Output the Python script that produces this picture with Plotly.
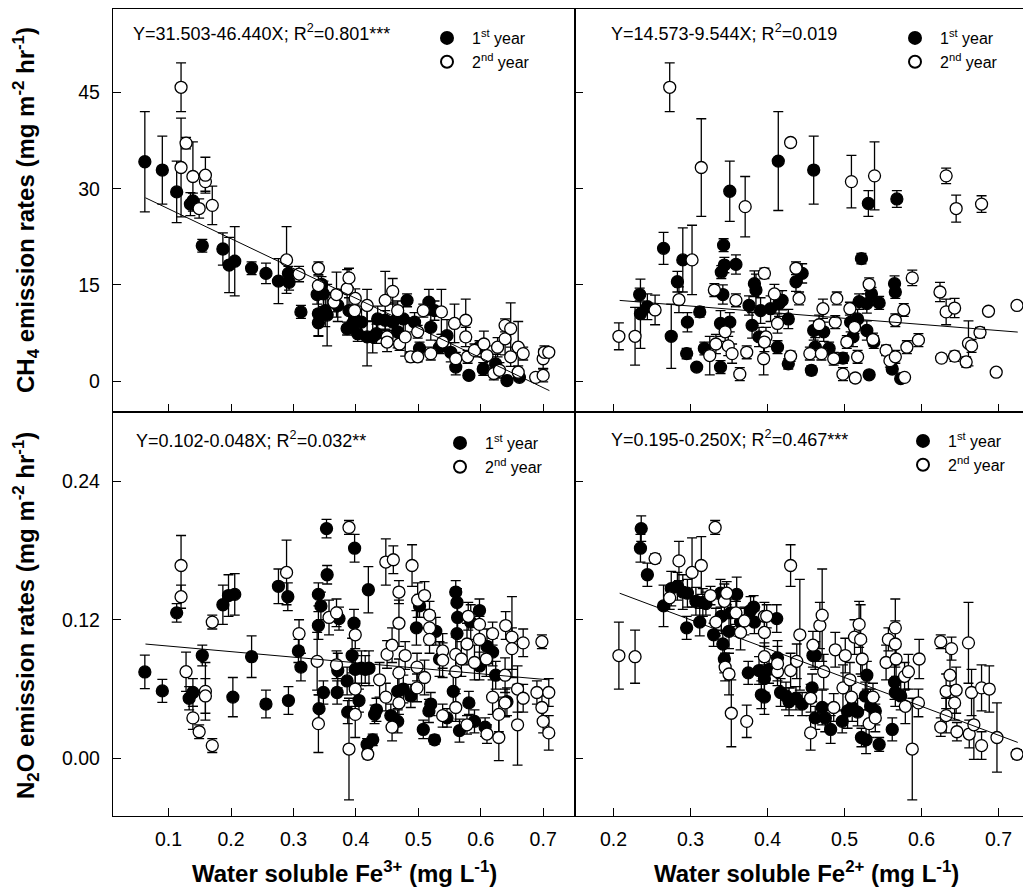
import plotly.graph_objects as go

# ---------------- data ----------------
# CH4 vs Fe3+ (top-left)
tl1_x = [0.062,0.090,0.113,0.135,0.139,0.154,0.187,0.197,0.206,0.233,0.256,0.276,0.292,0.293,0.312,0.338,0.340,0.340,0.345,0.348,0.351,0.354,0.371,0.386,0.389,0.395,0.398,0.403,0.409,0.418,0.427,0.433,0.435,0.447,0.459,0.467,0.476,0.482,0.494,0.502,0.517,0.520,0.526,0.534,0.546,0.552,0.560,0.581,0.598,0.604,0.624,0.642,0.662]
tl1_y = [34.2,32.9,29.5,27.6,28.1,21.1,20.6,18.1,18.7,17.6,16.8,15.6,16.8,15.4,10.8,13.5,9.1,10.5,15.1,13.6,11.0,10.3,11.8,8.2,11.0,9.0,9.7,7.4,9.2,6.9,6.9,7.4,9.7,9.5,9.2,7.7,9.7,12.6,9.2,5.1,12.3,8.4,11.0,5.3,7.1,4.5,2.2,0.9,5.3,1.9,2.7,0.1,0.6]
tl1_e = [7.8,5.3,4.8,1.8,1.2,1.0,2.5,4.3,5.4,1.0,1.6,3.5,1.1,1.2,1.0,1.5,2.0,3.5,1.2,2.0,2.5,4.8,2.5,1.0,2.0,1.5,2.0,1.2,2.5,4.5,2.5,1.5,2.0,1.5,3.0,2.5,2.0,1.0,1.5,1.0,2.0,2.0,1.5,1.0,2.5,1.5,1.2,0.5,1.0,1.0,1.5,0.5,0.5]

tl2_x = [0.120,0.120,0.128,0.139,0.149,0.159,0.159,0.170,0.289,0.309,0.340,0.340,0.365,0.369,0.386,0.389,0.398,0.399,0.418,0.447,0.450,0.450,0.459,0.467,0.470,0.479,0.488,0.499,0.499,0.508,0.520,0.537,0.539,0.558,0.560,0.576,0.576,0.579,0.590,0.605,0.610,0.621,0.630,0.627,0.639,0.639,0.648,0.648,0.660,0.660,0.668,0.688,0.700,0.700,0.702,0.709]
tl2_y = [45.8,33.3,37.1,31.9,26.9,31.1,32.1,27.4,18.9,16.7,17.6,14.9,12.3,13.5,14.4,16.1,11.0,12.9,11.8,12.6,6.9,6.1,14.0,11.0,5.8,6.9,3.8,7.7,3.8,11.0,4.3,10.8,6.1,9.0,3.5,9.5,6.9,3.8,4.8,5.8,4.0,1.2,1.7,5.3,8.7,6.6,8.2,3.8,5.3,1.4,4.3,0.6,0.9,3.5,4.5,4.5]
tl2_e = [3.8,7.7,0.9,5.4,1.5,1.5,2.8,3.0,5.2,1.2,1.0,1.5,1.5,3.5,3.0,1.5,1.0,1.5,2.5,4.5,1.0,1.5,2.0,1.5,1.0,3.0,0.8,1.0,0.8,1.0,1.0,3.5,1.2,3.0,1.0,3.3,1.5,1.0,1.0,2.0,1.5,1.0,1.2,1.5,1.0,2.5,4.0,1.5,4.0,1.0,1.0,0.5,1.0,1.5,1.0,0.5]

# CH4 vs Fe2+ (top-right)
tr1_x = [0.265,0.351,0.414,0.460,0.531,0.568,0.234,0.235,0.244,0.275,0.283,0.290,0.296,0.295,0.308,0.312,0.318,0.339,0.340,0.344,0.343,0.339,0.351,0.342,0.359,0.376,0.380,0.383,0.385,0.389,0.391,0.404,0.413,0.415,0.419,0.427,0.427,0.437,0.445,0.457,0.462,0.460,0.473,0.480,0.498,0.508,0.511,0.517,0.519,0.522,0.529,0.529,0.532,0.535,0.538,0.545,0.562,0.565,0.566,0.573]
tr1_y = [20.7,29.6,34.3,32.9,27.7,28.4,13.5,10.5,11.6,7.0,15.5,18.9,9.2,4.3,2.2,10.8,5.1,2.2,17.0,18.1,21.2,9.0,9.2,13.5,18.2,11.8,8.7,15.2,14.2,6.9,11.0,11.3,5.3,12.1,12.6,2.7,9.7,15.5,16.8,1.7,5.3,7.9,7.7,5.1,3.6,9.2,6.9,9.7,12.4,19.1,7.9,12.1,1.0,13.6,6.1,12.2,1.9,15.2,13.9,0.4]
tr1_e = [2.5,4.7,7.7,5.3,2.0,1.3,1.0,5.4,2.0,5.0,1.6,5.0,1.5,0.8,0.4,0.8,1.0,1.0,1.0,1.2,1.0,2.0,1.5,1.5,1.5,1.5,2.0,2.0,2.5,1.5,2.0,2.0,1.0,2.0,1.5,0.8,1.5,1.5,1.5,0.7,1.5,1.5,1.5,1.0,0.8,1.5,1.5,1.5,1.2,0.8,1.5,1.5,0.5,1.0,1.0,1.0,0.6,1.2,1.0,0.5]

tr2_x = [0.273,0.314,0.371,0.430,0.509,0.539,0.632,0.645,0.678,0.207,0.228,0.254,0.285,0.302,0.325,0.331,0.333,0.345,0.349,0.354,0.359,0.364,0.373,0.395,0.396,0.398,0.396,0.409,0.413,0.430,0.437,0.441,0.455,0.467,0.470,0.472,0.486,0.488,0.490,0.498,0.503,0.507,0.514,0.513,0.517,0.532,0.537,0.554,0.559,0.566,0.566,0.577,0.578,0.581,0.588,0.596,0.624,0.626,0.632,0.643,0.643,0.658,0.661,0.665,0.676,0.687,0.697,0.724]
tr2_y = [45.8,33.3,27.2,37.2,31.1,32.0,32.0,26.9,27.6,7.0,7.0,11.1,12.7,18.9,4.0,14.2,5.8,7.7,5.5,4.3,12.6,1.1,4.5,3.5,16.8,6.9,6.1,13.6,9.0,3.9,17.6,12.9,4.3,8.8,4.3,11.3,3.5,9.2,12.9,1.1,6.1,11.3,0.5,8.4,3.8,15.1,6.5,4.8,3.2,9.5,3.8,11.1,0.6,5.3,16.1,6.4,13.9,3.6,10.8,11.4,3.9,3.0,5.9,5.5,7.6,10.9,1.4,11.8]
tr2_e = [3.8,7.6,4.7,0.6,4.1,5.3,1.2,2.1,1.3,2.1,4.5,2.3,2.0,5.4,3.0,1.0,1.5,1.5,1.5,1.5,1.0,1.0,1.0,2.5,0.8,1.5,1.5,1.5,1.5,0.8,1.0,1.0,1.0,1.5,1.0,1.5,1.0,1.0,1.0,1.0,1.0,1.0,0.6,1.0,1.0,1.0,1.0,0.8,1.0,1.0,1.0,1.0,0.5,1.0,1.2,1.0,1.5,0.6,2.0,1.5,0.8,0.8,3.5,1.0,0.8,0.5,0.5,0.5]

# N2O vs Fe3+ (bottom-left)
bl1_x = [0.062,0.090,0.113,0.133,0.139,0.154,0.187,0.196,0.206,0.203,0.233,0.256,0.276,0.292,0.291,0.308,0.312,0.340,0.340,0.344,0.353,0.354,0.348,0.341,0.370,0.371,0.373,0.386,0.387,0.394,0.397,0.398,0.399,0.405,0.409,0.415,0.421,0.418,0.427,0.420,0.430,0.433,0.456,0.467,0.467,0.476,0.488,0.497,0.502,0.508,0.517,0.520,0.526,0.528,0.534,0.546,0.556,0.560,0.562,0.562,0.563,0.566,0.581,0.584,0.590,0.598,0.598,0.607,0.610,0.619,0.624,0.642]
bl1_y = [0.0748,0.0584,0.126,0.052,0.057,0.089,0.133,0.141,0.142,0.053,0.088,0.047,0.149,0.050,0.140,0.093,0.079,0.115,0.142,0.132,0.199,0.159,0.057,0.043,0.057,0.076,0.121,0.067,0.040,0.089,0.117,0.182,0.077,0.050,0.078,0.077,0.078,0.012,0.016,0.146,0.038,0.042,0.037,0.032,0.058,0.060,0.054,0.113,0.132,0.025,0.041,0.047,0.016,0.110,0.086,0.035,0.058,0.144,0.135,0.108,0.122,0.024,0.048,0.118,0.032,0.128,0.080,0.027,0.097,0.092,0.072,0.049]
bl1_e = [0.0145,0.010,0.008,0.010,0.012,0.009,0.017,0.018,0.018,0.017,0.018,0.012,0.015,0.012,0.012,0.010,0.012,0.012,0.010,0.012,0.008,0.008,0.010,0.012,0.010,0.015,0.010,0.012,0.010,0.015,0.012,0.012,0.012,0.010,0.015,0.012,0.015,0.005,0.005,0.020,0.008,0.010,0.010,0.010,0.015,0.012,0.010,0.015,0.010,0.008,0.010,0.010,0.004,0.012,0.015,0.008,0.015,0.010,0.012,0.015,0.015,0.010,0.010,0.015,0.010,0.010,0.012,0.008,0.015,0.012,0.012,0.012]

bl2_x = [0.120,0.120,0.128,0.139,0.149,0.159,0.159,0.170,0.170,0.289,0.309,0.338,0.340,0.357,0.369,0.369,0.389,0.389,0.399,0.399,0.399,0.419,0.438,0.448,0.460,0.448,0.450,0.458,0.458,0.469,0.469,0.469,0.469,0.479,0.490,0.498,0.498,0.499,0.510,0.510,0.518,0.518,0.518,0.539,0.539,0.539,0.560,0.560,0.560,0.569,0.578,0.580,0.578,0.590,0.598,0.598,0.609,0.610,0.619,0.619,0.629,0.629,0.639,0.640,0.639,0.650,0.650,0.659,0.659,0.668,0.668,0.690,0.698,0.698,0.700,0.709,0.709]
bl2_y = [0.167,0.140,0.075,0.035,0.023,0.058,0.054,0.011,0.118,0.161,0.108,0.084,0.030,0.122,0.126,0.081,0.200,0.008,0.038,0.060,0.107,0.0035,0.068,0.170,0.172,0.053,0.090,0.098,0.027,0.144,0.117,0.074,0.048,0.089,0.167,0.079,0.061,0.137,0.141,0.070,0.124,0.113,0.103,0.093,0.037,0.085,0.044,0.075,0.090,0.086,0.099,0.123,0.029,0.083,0.116,0.103,0.086,0.021,0.053,0.108,0.038,0.018,0.072,0.115,0.048,0.105,0.095,0.060,0.029,0.100,0.052,0.057,0.101,0.044,0.032,0.057,0.022]
bl2_e = [0.026,0.010,0.017,0.010,0.006,0.025,0.015,0.006,0.006,0.028,0.012,0.025,0.025,0.015,0.012,0.012,0.006,0.044,0.020,0.015,0.012,0.004,0.015,0.020,0.012,0.012,0.012,0.015,0.012,0.010,0.020,0.012,0.010,0.012,0.018,0.012,0.012,0.015,0.012,0.015,0.012,0.015,0.012,0.015,0.010,0.015,0.012,0.015,0.015,0.015,0.018,0.012,0.008,0.015,0.015,0.020,0.015,0.008,0.015,0.010,0.015,0.020,0.015,0.012,0.012,0.035,0.018,0.020,0.035,0.012,0.012,0.010,0.006,0.010,0.010,0.012,0.015]

# N2O vs Fe2+ (bottom-right)
br1_x = [0.236,0.235,0.244,0.265,0.275,0.283,0.290,0.296,0.295,0.307,0.316,0.320,0.312,0.330,0.339,0.340,0.342,0.344,0.350,0.352,0.360,0.365,0.375,0.378,0.382,0.383,0.389,0.392,0.396,0.396,0.402,0.412,0.413,0.417,0.424,0.428,0.437,0.445,0.458,0.459,0.462,0.462,0.471,0.475,0.482,0.497,0.504,0.510,0.517,0.522,0.528,0.527,0.529,0.534,0.540,0.545,0.562,0.565,0.566,0.573]
br1_y = [0.199,0.182,0.159,0.132,0.147,0.149,0.144,0.143,0.113,0.136,0.135,0.134,0.118,0.107,0.143,0.123,0.099,0.086,0.110,0.126,0.142,0.118,0.074,0.128,0.131,0.118,0.076,0.055,0.053,0.069,0.077,0.121,0.087,0.057,0.054,0.049,0.052,0.047,0.061,0.089,0.089,0.035,0.044,0.035,0.025,0.032,0.041,0.044,0.040,0.018,0.016,0.054,0.072,0.045,0.041,0.012,0.025,0.066,0.057,0.054]
br1_e = [0.011,0.012,0.010,0.018,0.015,0.012,0.015,0.012,0.010,0.012,0.012,0.010,0.012,0.010,0.012,0.015,0.012,0.012,0.015,0.012,0.015,0.012,0.010,0.012,0.010,0.010,0.012,0.012,0.015,0.012,0.012,0.012,0.015,0.012,0.012,0.012,0.010,0.010,0.012,0.010,0.012,0.010,0.015,0.012,0.012,0.010,0.015,0.012,0.012,0.008,0.012,0.012,0.012,0.015,0.012,0.006,0.010,0.015,0.012,0.012]

br2_x = [0.207,0.228,0.254,0.273,0.285,0.302,0.314,0.326,0.332,0.333,0.344,0.347,0.345,0.350,0.353,0.359,0.365,0.370,0.373,0.396,0.399,0.396,0.396,0.413,0.413,0.430,0.430,0.438,0.442,0.456,0.456,0.459,0.468,0.471,0.473,0.486,0.488,0.498,0.501,0.507,0.509,0.513,0.519,0.521,0.523,0.532,0.537,0.540,0.554,0.557,0.566,0.566,0.567,0.578,0.579,0.583,0.588,0.596,0.597,0.625,0.625,0.632,0.632,0.637,0.639,0.643,0.645,0.646,0.661,0.662,0.665,0.668,0.678,0.688,0.678,0.698,0.724]
br2_y = [0.089,0.088,0.173,0.139,0.171,0.161,0.167,0.141,0.200,0.118,0.136,0.143,0.079,0.073,0.039,0.126,0.109,0.119,0.032,0.123,0.123,0.109,0.088,0.075,0.082,0.167,0.076,0.084,0.107,0.052,0.022,0.098,0.115,0.124,0.075,0.044,0.094,0.061,0.089,0.068,0.053,0.105,0.116,0.103,0.086,0.030,0.053,0.035,0.083,0.103,0.113,0.099,0.086,0.071,0.045,0.075,0.008,0.048,0.086,0.101,0.027,0.058,0.037,0.072,0.095,0.048,0.059,0.023,0.100,0.021,0.057,0.029,0.061,0.060,0.011,0.018,0.0035]
br2_e = [0.029,0.023,0.004,0.010,0.017,0.030,0.025,0.008,0.006,0.012,0.015,0.010,0.012,0.018,0.029,0.010,0.015,0.012,0.014,0.012,0.010,0.012,0.012,0.012,0.015,0.018,0.015,0.015,0.048,0.012,0.015,0.012,0.020,0.040,0.015,0.012,0.015,0.020,0.015,0.015,0.012,0.015,0.020,0.030,0.015,0.012,0.012,0.012,0.015,0.010,0.025,0.020,0.015,0.012,0.015,0.015,0.044,0.012,0.017,0.006,0.008,0.015,0.015,0.020,0.010,0.015,0.020,0.008,0.035,0.012,0.020,0.030,0.020,0.020,0.012,0.030,0.004]

# regression lines: intercept, slope, x-extent
fit_intercept = [31.503, 14.573, 0.102, 0.195]
fit_slope = [-46.440, -9.544, -0.048, -0.250]
fit_xrange = [[0.063, 0.710], [0.208, 0.725], [0.063, 0.710], [0.208, 0.725]]
equations = ["Y=31.503-46.440X; R<sup>2</sup>=0.801***",
             "Y=14.573-9.544X; R<sup>2</sup>=0.019",
             "Y=0.102-0.048X; R<sup>2</sup>=0.032**",
             "Y=0.195-0.250X; R<sup>2</sup>=0.467***"]
year_labels = ["1<sup>st</sup> year", "2<sup>nd</sup> year"]

ch4_ticks = [0, 15, 30, 45]
n2o_ticks = [0.0, 0.12, 0.24]
n2o_ticktext = ["0.00", "0.12", "0.24"]
fe3_ticks = [0.1, 0.2, 0.3, 0.4, 0.5, 0.6, 0.7]
fe2_ticks = [0.2, 0.3, 0.4, 0.5, 0.6, 0.7]

# ---------------- figure ----------------
W, H = 1031, 891
FONT = "Liberation Sans, Arial, sans-serif"

fig = go.Figure()

panels = [
    ("x", "y", "legend", tl1_x, tl1_y, tl1_e, tl2_x, tl2_y, tl2_e),
    ("x2", "y2", "legend2", tr1_x, tr1_y, tr1_e, tr2_x, tr2_y, tr2_e),
    ("x3", "y3", "legend3", bl1_x, bl1_y, bl1_e, bl2_x, bl2_y, bl2_e),
    ("x4", "y4", "legend4", br1_x, br1_y, br1_e, br2_x, br2_y, br2_e),
]

for i, (xa, ya, lg, x1, y1, e1, x2, y2, e2) in enumerate(panels):
    for (xs, ys, es, fill, name) in [(x1, y1, e1, "black", year_labels[0]),
                                     (x2, y2, e2, "white", year_labels[1])]:
        fig.add_trace(go.Scatter(
            x=xs, y=ys, mode="markers", name=name, xaxis=xa, yaxis=ya, legend=lg,
            marker=dict(size=12, color=fill, line=dict(color="black", width=1.3)),
            error_y=dict(type="data", array=es, visible=True, color="black",
                         thickness=1.3, width=5),
        ))
    xr = fit_xrange[i]
    fig.add_trace(go.Scatter(
        x=xr, y=[fit_intercept[i] + fit_slope[i] * v for v in xr],
        mode="lines", line=dict(color="black", width=1), showlegend=False,
        xaxis=xa, yaxis=ya, hoverinfo="skip"))

# domains (pixel based)
xl = [105 / W, 567 / W]
xrgt = [567 / W, 1029 / W]
ytop = [1 - 404 / H, 1 - 1 / H]
ybot = [1 - 808 / H, 1 - 404 / H]

axis_common = dict(showline=True, linecolor="black", linewidth=1.3, mirror=True,
                   ticks="inside", ticklen=8, tickwidth=1.2, tickcolor="black",
                   showgrid=False, zeroline=False,
                   tickfont=dict(family=FONT, size=19.5, color="black"))

fig.update_layout(
    width=W, height=H, margin=dict(l=0, r=0, t=0, b=0),
    paper_bgcolor="white", plot_bgcolor="white",
    font=dict(family=FONT, color="black"),
    xaxis=dict(domain=xl, range=[0.011, 0.751], anchor="y", tickvals=fe3_ticks,
               showticklabels=False, **axis_common),
    yaxis=dict(domain=ytop, range=[-4.8, 58], anchor="x", tickvals=ch4_ticks,
               ticklabelstandoff=8, **axis_common),
    xaxis2=dict(domain=xrgt, range=[0.150, 0.750], anchor="y2", tickvals=fe2_ticks,
                showticklabels=False, **axis_common),
    yaxis2=dict(domain=ytop, range=[-4.8, 58], anchor="x2", tickvals=ch4_ticks,
                showticklabels=False, **axis_common),
    xaxis3=dict(domain=xl, range=[0.011, 0.751], anchor="y3", tickvals=fe3_ticks,
                ticklabelstandoff=5, **axis_common),
    yaxis3=dict(domain=ybot, range=[-0.05, 0.30], anchor="x3", tickvals=n2o_ticks,
                ticktext=n2o_ticktext, ticklabelstandoff=8, **axis_common),
    xaxis4=dict(domain=xrgt, range=[0.150, 0.750], anchor="y4", tickvals=fe2_ticks,
                ticklabelstandoff=5, **axis_common),
    yaxis4=dict(domain=ybot, range=[-0.05, 0.30], anchor="x4", tickvals=n2o_ticks,
                showticklabels=False, **axis_common),
)

legend_pos = {"legend": (414, 13), "legend2": (882, 13),
              "legend3": (427, 418), "legend4": (890, 416)}
for lg, (px, py) in legend_pos.items():
    fig.update_layout({lg: dict(x=px / W, y=1 - py / H, xanchor="left", yanchor="top",
                                bgcolor="rgba(0,0,0,0)", borderwidth=0, itemwidth=40,
                                font=dict(family=FONT, size=16, color="black"),
                                itemsizing="constant")})

# equation annotations
eq_pos = [(123, 25), (601, 25), (126, 431), (601, 430)]
for txt, (px, py) in zip(equations, eq_pos):
    fig.add_annotation(text=txt, x=px / W, y=1 - py / H, xref="paper", yref="paper",
                       xanchor="left", yanchor="middle", showarrow=False,
                       font=dict(family=FONT, size=18, color="black"))

# axis titles
title_font = dict(family=FONT, size=24, color="black")
fig.add_annotation(text="<b>CH<sub>4</sub> emission rates (mg m<sup>-2</sup> hr<sup>-1</sup>)</b>",
                   x=18 / W, y=1 - 202 / H, xref="paper", yref="paper", textangle=-90,
                   xanchor="center", yanchor="middle", showarrow=False, font=title_font)
fig.add_annotation(text="<b>N<sub>2</sub>O emission rates (mg m<sup>-2</sup> hr<sup>-1</sup>)</b>",
                   x=18 / W, y=1 - 608 / H, xref="paper", yref="paper", textangle=-90,
                   xanchor="center", yanchor="middle", showarrow=False, font=title_font)
fig.add_annotation(text="<b>Water soluble Fe<sup>3+</sup> (mg L<sup>-1</sup>)</b>",
                   x=336 / W, y=1 - 864 / H, xref="paper", yref="paper",
                   xanchor="center", yanchor="middle", showarrow=False, font=title_font)
fig.add_annotation(text="<b>Water soluble Fe<sup>2+</sup> (mg L<sup>-1</sup>)</b>",
                   x=798 / W, y=1 - 864 / H, xref="paper", yref="paper",
                   xanchor="center", yanchor="middle", showarrow=False, font=title_font)

fig.write_html("out.html")
